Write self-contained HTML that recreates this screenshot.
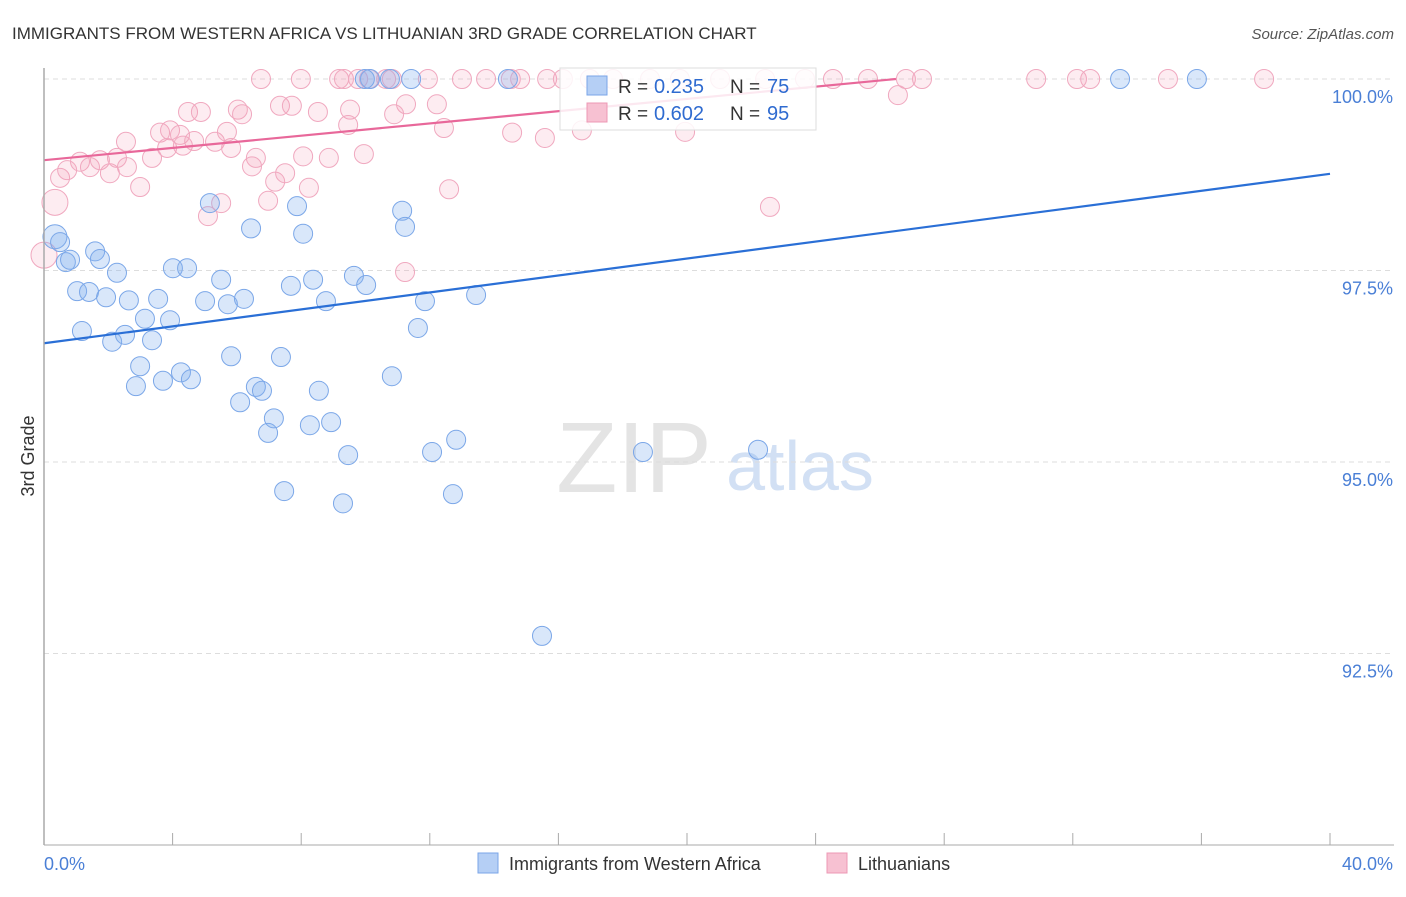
<!DOCTYPE html>
<html><head><meta charset="utf-8"><style>
body{margin:0;background:#fff;font-family:"Liberation Sans",sans-serif;}
svg text{font-family:"Liberation Sans",sans-serif;}
</style></head><body>
<svg id="c" width="1406" height="892" xmlns="http://www.w3.org/2000/svg">
<text x="12" y="39" font-size="17" fill="#333">IMMIGRANTS FROM WESTERN AFRICA VS LITHUANIAN 3RD GRADE CORRELATION CHART</text>
<text x="1394" y="39" font-size="15" fill="#555" font-style="italic" text-anchor="end">Source: ZipAtlas.com</text>
<text x="634" y="492" font-size="100" fill="#e4e4e4" font-family="Liberation Serif" text-anchor="middle">ZIP</text>
<text x="800" y="490" font-size="70" fill="#d2e0f4" text-anchor="middle">atlas</text>
<text transform="translate(34,456) rotate(-90)" font-size="18" fill="#333" text-anchor="middle">3rd Grade</text>
<g id="grid"></g><g id="pts"></g><g id="lines"></g>
<line x1="44" y1="68" x2="44" y2="845" stroke="#aaa" stroke-width="1.5"/>
<line x1="44" y1="845" x2="1394" y2="845" stroke="#aaa" stroke-width="1"/>
<g id="xt"></g>
<text x="44" y="870" font-size="18" fill="#4a7fd6">0.0%</text>
<text x="1393" y="870" font-size="18" fill="#4a7fd6" text-anchor="end">40.0%</text>
<g>
<rect x="560" y="68" width="256" height="62" fill="#fff" fill-opacity="0.85" stroke="#ddd"/>
<rect x="587" y="76" width="20" height="19" fill="#b5cff5" stroke="#7aa5e8"/>
<text x="618" y="93" font-size="19" fill="#333">R =</text>
<text x="654" y="93" font-size="20" fill="#2f6bd0">0.235</text>
<text x="730" y="93" font-size="19" fill="#333">N =</text>
<text x="767" y="93" font-size="20" fill="#2f6bd0">75</text>
<rect x="587" y="103" width="20" height="19" fill="#f7c1d2" stroke="#ec98b4"/>
<text x="618" y="120" font-size="19" fill="#333">R =</text>
<text x="654" y="120" font-size="20" fill="#2f6bd0">0.602</text>
<text x="730" y="120" font-size="19" fill="#333">N =</text>
<text x="767" y="120" font-size="20" fill="#2f6bd0">95</text>
</g>
<g>
<rect x="478" y="853" width="20" height="20" fill="#b5cff5" stroke="#7aa5e8"/>
<text x="509" y="870" font-size="18" fill="#333">Immigrants from Western Africa</text>
<rect x="827" y="853" width="20" height="20" fill="#f7c1d2" stroke="#ec98b4"/>
<text x="858" y="870" font-size="18" fill="#333">Lithuanians</text>
</g>
</svg>
<script>
const yTicks=[100,97.5,95,92.5];
const yTickLabels=["100.0%","97.5%","95.0%","92.5%"];
const xTickVals=[0,4,8,12,16,20,24,28,32,36,40];
const blueX=[0.34,0.50,0.68,0.81,1.59,1.74,2.27,4.01,4.45,1.03,1.40,1.93,2.64,3.55,1.18,2.12,2.52,3.14,3.92,3.36,2.99,2.86,3.70,4.26,4.57,5.16,6.44,5.01,5.51,5.72,6.22,5.82,6.10,6.59,6.78,7.37,6.97,7.15,7.87,8.06,7.68,8.37,8.77,7.47,8.27,8.55,8.93,9.46,9.30,9.64,10.02,10.14,10.82,11.14,11.23,11.63,11.85,12.07,12.82,12.72,13.44,11.42,14.43,15.49,18.63,22.21,33.47,35.86,9.98,10.76];
const blueY=[97.94,97.87,97.61,97.64,97.75,97.65,97.47,97.53,97.53,97.23,97.22,97.15,97.11,97.13,96.71,96.57,96.66,96.87,96.85,96.59,96.25,95.99,96.06,96.17,96.08,98.38,98.05,97.10,97.38,97.06,97.13,96.38,95.78,95.98,95.93,96.37,95.38,95.57,98.34,97.98,97.30,97.38,97.10,94.62,95.48,95.93,95.52,95.09,94.46,97.43,97.31,100,96.12,98.28,98.07,96.75,97.10,95.13,95.29,94.58,97.18,100,100,92.73,95.13,95.16,100,100,100,100];
const pinkX=[6.75,7.99,9.18,9.33,9.77,10.11,10.64,10.82,11.94,13.00,13.75,14.52,14.81,15.65,16.14,16.98,17.70,18.85,19.78,21.03,22.43,23.67,24.54,25.63,26.81,27.31,30.86,32.13,32.54,34.96,37.95,
0.50,0.34,0.72,1.12,1.43,1.74,2.05,2.27,2.55,2.99,2.58,3.36,3.61,3.92,4.23,4.32,3.83,4.67,5.32,5.69,5.82,4.48,4.88,6.03,6.16,7.34,7.71,8.52,9.52,9.46,9.95,8.86,8.06,6.59,6.47,7.19,7.50,8.24,6.97,5.10,5.51,11.26,12.22,10.89,12.44,12.60,11.23,14.56,15.58,16.73,19.94,22.58,26.56,0];
const pinkY=[100,100,100,100,100,100,100,100,100,100,100,100,100,100,100,100,100,100,100,100,100,100,100,100,100,100,100,100,100,100,100,
98.71,98.39,98.81,98.92,98.85,98.94,98.77,98.97,99.18,98.59,98.85,98.97,99.30,99.33,99.27,99.13,99.10,99.19,99.18,99.31,99.10,99.57,99.57,99.60,99.54,99.65,99.65,99.57,99.60,99.40,99.02,98.97,98.99,98.97,98.86,98.66,98.77,98.58,98.41,98.21,98.38,99.67,99.67,99.54,99.36,98.56,97.48,99.30,99.23,99.33,99.31,98.33,99.79,97.70];
const trendIntercept=[96.55,98.94];
const trendSlope=[0.0553,0.04];
const NS='http://www.w3.org/2000/svg';
const sx=v=>44+v*32.15;
const sy=v=>79+(100-v)*76.6;
function mk(t,a,p){const e=document.createElementNS(NS,t);for(const k in a)e.setAttribute(k,a[k]);p.appendChild(e);return e;}
const grid=document.getElementById('grid');
yTicks.forEach((t,i)=>{
 const l=mk('line',{x1:44,x2:1394,y1:sy(t),y2:sy(t),stroke:'#ddd','stroke-dasharray':'5,4'},grid);
 
 
 const tx=mk('text',{x:1393,y:sy(t)+24,'font-size':18,fill:'#4a7fd6','text-anchor':'end'},grid);
 tx.textContent=yTickLabels[i];
 
 
});
const xt=document.getElementById('xt');
xTickVals.forEach(v=>{
 const l=mk('line',{x1:sx(v),x2:sx(v),y1:833,y2:845,stroke:'#aaa'},xt);
 
 
});
const pts=document.getElementById('pts');
pinkX.forEach((x,i)=>{
 const big=(i===32||i===pinkX.length-1);
 const c=mk('circle',{cx:sx(x),cy:sy(pinkY[i]),r:big?13:9.5,fill:'rgba(245,160,185,0.2)',stroke:'#f0a8bf','stroke-width':1},pts);
 
 
});
blueX.forEach((x,i)=>{
 const c=mk('circle',{cx:sx(x),cy:sy(blueY[i]),r:i===0?12:9.5,fill:'rgba(130,175,240,0.3)',stroke:'#7ba7e8','stroke-width':1},pts);
 
 
});
const lines=document.getElementById('lines');
const cols=['#2a6fd6','#e8689a'];
const names=['trend-western-africa','trend-lithuanians'];
[0,1].forEach(k=>{
 const b=trendIntercept[k],m=trendSlope[k];
 let x2=40,y2=b+m*40;
 if(y2>100){x2=(100-b)/m;y2=100;}
 const l=mk('line',{x1:sx(0),y1:sy(b),x2:sx(x2),y2:sy(y2),stroke:cols[k],'stroke-width':2.2},lines);
 
 
});
</script>
</body></html>
